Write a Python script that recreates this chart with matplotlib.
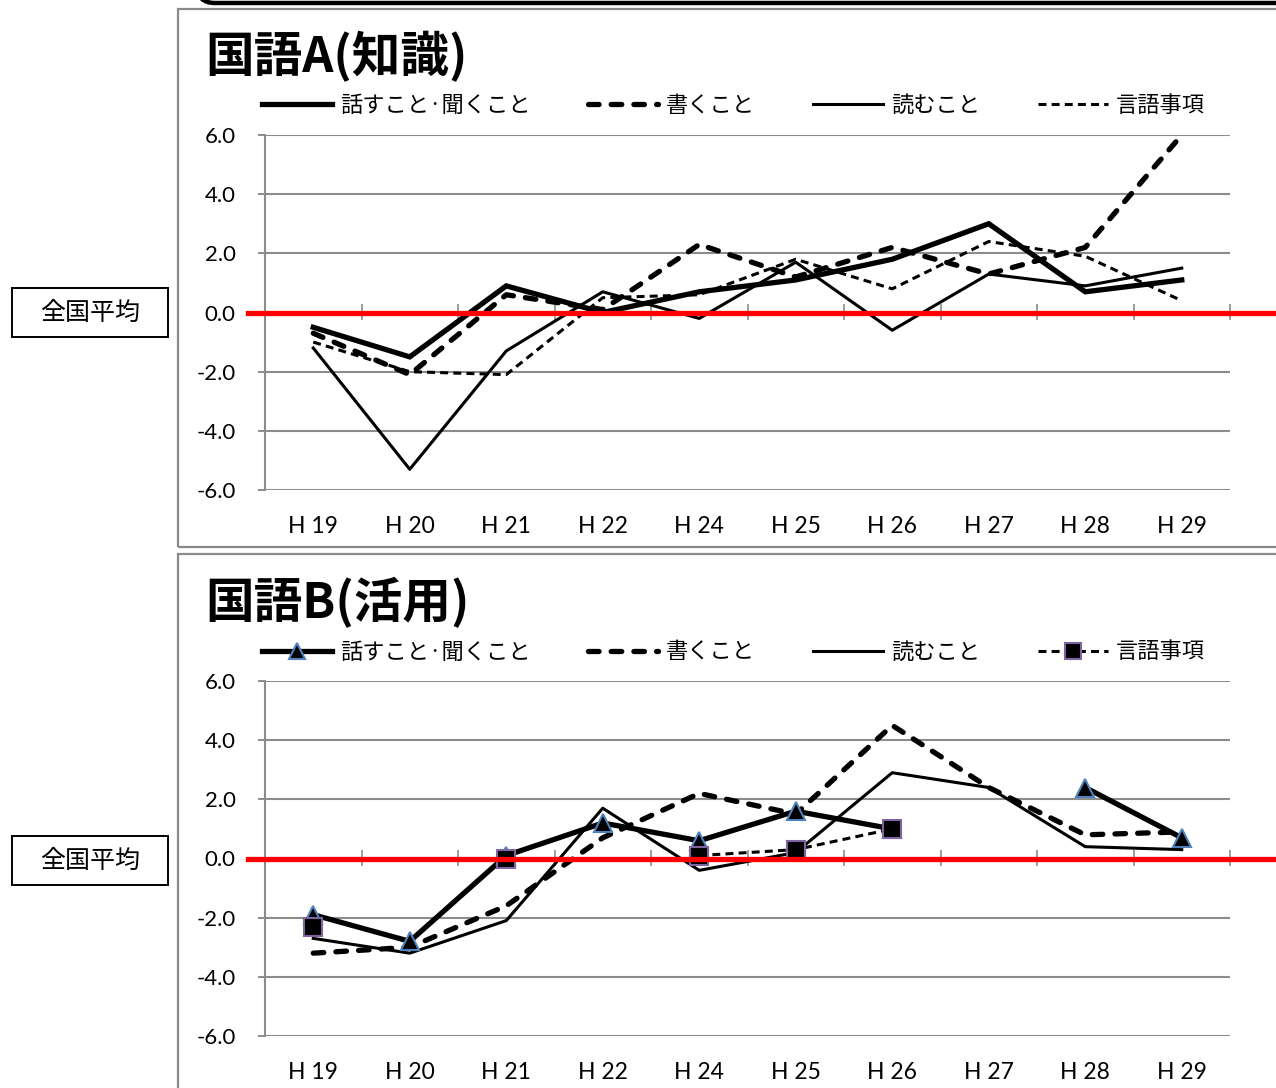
import numpy as np
import matplotlib
matplotlib.use("Agg")
import matplotlib.pyplot as plt
from matplotlib.patches import Rectangle, FancyBboxPatch

plt.rcParams['font.family'] = ['Noto Sans CJK JP', 'DejaVu Sans']
plt.rcParams['axes.unicode_minus'] = False

categories = ["H 19", "H 20", "H 21", "H 22", "H 24", "H 25", "H 26", "H 27", "H 28", "H 29"]
series_names = ["話すこと·聞くこと", "書くこと", "読むこと", "言語事項"]

# 国語A（知識）
A_hanasu = [-0.5, -1.5, 0.9, 0.0, 0.7, 1.1, 1.8, 3.0, 0.7, 1.1]
A_kaku = [-0.7, -2.1, 0.6, 0.1, 2.3, 1.2, 2.2, 1.3, 2.2, 6.0]
A_yomu = [-1.2, -5.3, -1.3, 0.7, -0.2, 1.7, -0.6, 1.3, 0.9, 1.5]
A_gengo = [-1.0, -2.0, -2.1, 0.5, 0.6, 1.8, 0.8, 2.4, 1.9, 0.4]

# 国語B（活用）
nan = np.nan
B_hanasu = [-1.9, -2.8, 0.1, 1.2, 0.6, 1.6, 1.0, nan, 2.4, 0.7]
B_kaku = [-3.2, -3.0, -1.6, 0.7, 2.2, 1.5, 4.5, 2.4, 0.8, 0.9]
B_yomu = [-2.7, -3.2, -2.1, 1.7, -0.4, 0.2, 2.9, 2.4, 0.4, 0.3]
B_gengo = [-2.3, nan, 0.0, nan, 0.1, 0.3, 1.0, nan, nan, nan]

y_ticks = [-6.0, -4.0, -2.0, 0.0, 2.0, 4.0, 6.0]
titles = ["国語A(知識)", "国語B(活用)"]
ref_label = "全国平均"

W, H = 1276, 1088
fig = plt.figure(figsize=(W / 100, H / 100), dpi=100)


def fx(px):
    return px / W


def fy(py):
    return 1 - py / H


GRAY = '#8c8c8c'
NUM_FONT = 'Lato'

# top decorative rounded bar (bottom edge of a box above)
fig.patches.append(FancyBboxPatch((197, H - 3), 1200, 80, boxstyle="round,pad=0,rounding_size=18",
                                  transform=None, facecolor='white', edgecolor='black', lw=3.2))
# panel boxes
fig.patches.append(Rectangle((fx(178), fy(547)), fx(1300 - 178), (547 - 9) / H, transform=fig.transFigure,
                             facecolor='none', edgecolor='#8a8a8a', lw=1.6))
fig.patches.append(Rectangle((fx(178), fy(1100)), fx(1300 - 178), (1100 - 554) / H, transform=fig.transFigure,
                             facecolor='none', edgecolor='#8a8a8a', lw=1.6))

x = np.arange(len(categories))
ax_w = (1230 - 265) / W
ax_h = (490 - 135) / H
axes_pos = [(265, 490), (265, 1036)]
title_y = [57, 603]
legend_y = [105, 652]
box_y = [(288, 337), (836, 885)]

data = [
    (A_hanasu, A_kaku, A_yomu, A_gengo),
    (B_hanasu, B_kaku, B_yomu, B_gengo),
]

for i in range(2):
    left, bottom = axes_pos[i]
    ax = fig.add_axes([fx(left), fy(bottom), ax_w, ax_h])
    hanasu, kaku, yomu, gengo = data[i]
    if i == 0:
        l1, = ax.plot(x, hanasu, color='black', lw=3.8, solid_joinstyle='miter', zorder=4)
        l2, = ax.plot(x, kaku, color='black', lw=3.8, dashes=(2.0, 2.3), dash_capstyle='round', zorder=4)
        l3, = ax.plot(x, yomu, color='black', lw=2.2, zorder=4)
        l4, = ax.plot(x, gengo, color='black', lw=2.2, dashes=(2.6, 1.7), zorder=4)
    else:
        l1, = ax.plot(x, hanasu, color='black', lw=3.8, marker='^', ms=13, mfc='black',
                      mec='#4f81bd', mew=1.5, zorder=5)
        l2, = ax.plot(x, kaku, color='black', lw=3.8, dashes=(2.0, 2.3), dash_capstyle='round', zorder=4)
        l3, = ax.plot(x, yomu, color='black', lw=2.2, zorder=4)
        l4, = ax.plot(x, gengo, color='black', lw=2.2, dashes=(2.6, 1.7), marker='s', ms=13, mfc='black',
                      mec='#8064a2', mew=1.5, zorder=6)

    ax.set_xlim(-0.5, len(categories) - 0.5)
    ax.set_ylim(-6, 6)
    ax.set_yticks(y_ticks)
    ax.set_yticklabels([f"{v:.1f}" for v in y_ticks], fontsize=16, family=NUM_FONT)
    ax.set_xticks(x)
    ax.set_xticklabels(categories, fontsize=16.5, family=NUM_FONT)
    ax.tick_params(axis='x', length=0, pad=19)
    ax.tick_params(axis='y', length=5, width=1.4, color=GRAY, pad=16)
    ax.grid(axis='y', color=GRAY, lw=1.5, zorder=0)
    ax.set_axisbelow(True)
    for s in ['top', 'right', 'bottom']:
        ax.spines[s].set_visible(False)
    ax.spines['left'].set_color(GRAY)
    ax.spines['left'].set_linewidth(1.5)

    # category axis crossing at 0 with tick marks between categories
    sec = ax.secondary_xaxis(0.5)
    sec.set_xticks(np.arange(-0.5, len(categories), 1.0))
    sec.tick_params(direction='inout', length=11, width=1.2, color=GRAY, labelbottom=False, labeltop=False)
    for s in sec.spines.values():
        s.set_visible(False)

    # national average line
    ax.axhline(0, xmin=-17 / 965, xmax=(1300 - 265) / 965, clip_on=False, color='#ff0000', lw=3.8, zorder=10)

    # legend
    ax.legend([l1, l2, l3, l4], series_names, loc='center left', ncol=4,
              bbox_to_anchor=(fx(262), fy(legend_y[i])), bbox_transform=fig.transFigure,
              frameon=False, fontsize=16, handlelength=3.15, handletextpad=0.36,
              columnspacing=2.6, borderpad=0, borderaxespad=0, markerscale=0.85)

    # title
    fig.text(fx(205), fy(title_y[i]), titles[i], fontsize=35, fontweight='bold', va='center', ha='left')

    # reference box
    y0, y1 = box_y[i]
    fig.patches.append(Rectangle((fx(12), fy(y1)), fx(168 - 12), (y1 - y0) / H, transform=fig.transFigure,
                                 facecolor='white', edgecolor='black', lw=1.4))
    fig.text(fx(90), fy((y0 + y1) / 2), ref_label, fontsize=18, ha='center', va='center')

fig.savefig("out.png", dpi=100)
